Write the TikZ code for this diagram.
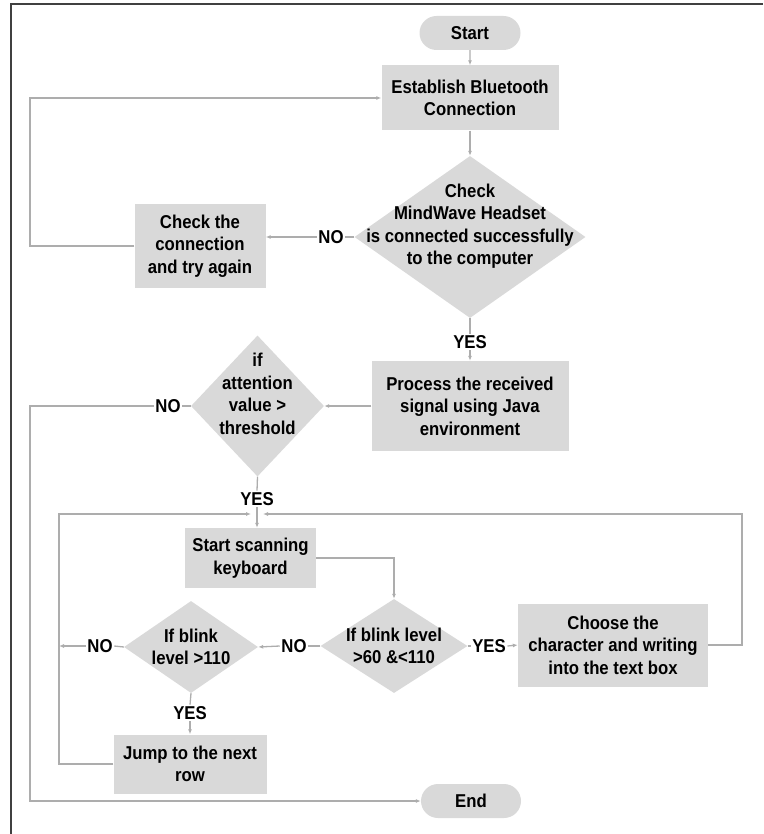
\documentclass[tikz,border=0pt]{standalone}
\usepackage{fontspec}
\setmainfont{Liberation Sans}[FakeStretch=0.9]
\usetikzlibrary{shapes.geometric,shapes.misc,arrows.meta}
\definecolor{boxgray}{HTML}{D9D9D9}
\definecolor{linegray}{HTML}{ADADAD}
\definecolor{framegray}{HTML}{404040}
\begin{document}
\begin{tikzpicture}[x=1pt,y=-1pt,
  every node/.style={font=\fontsize{18.6}{22.5}\selectfont\bfseries},
  box/.style={rectangle, fill=boxgray, align=center, inner sep=0pt},
  pill/.style={rounded rectangle, fill=boxgray, inner sep=0pt},
  dia/.style={diamond, fill=boxgray, inner sep=0pt},
  dtext/.style={align=center, inner sep=0pt},
  lbl/.style={inner sep=1.5pt},
  conn/.style={draw=linegray, line width=1.3pt},
  arr/.style={conn, -{Latex[length=5pt,width=4pt]}}]
\useasboundingbox (0,0) rectangle (763,834);
\draw[framegray, line width=2pt] (10.5,834) -- (10.5,4.5) -- (763,4.5);

% nodes
\node[pill, minimum width=101pt, minimum height=34pt] (start) at (470,33) {Start};
\node[box, minimum width=177pt, minimum height=65pt] (est) at (470,98) {Establish Bluetooth\\Connection};
\node[dia, minimum width=231pt, minimum height=162pt] (dmw) at (470,237) {};
\node[dtext, yshift=11pt] (dmwt) at (dmw.center) {Check\\MindWave Headset\\is connected successfully\\to the computer};
\node[box, minimum width=131pt, minimum height=84pt] (check) at (200,246) {Check the\\connection\\and try again};
\node[box, minimum width=197pt, minimum height=90pt] (proc) at (470,406) {Process the received\\signal using Java\\environment};
\node[dia, minimum width=133pt, minimum height=141pt] (datt) at (257.5,406) {};
\node[dtext, yshift=12pt] (dattt) at (datt.center) {if\\attention\\value >\\threshold};
\node[box, minimum width=131pt, minimum height=60pt] (scan) at (250.5,558) {Start scanning\\keyboard};
\node[dia, minimum width=147pt, minimum height=94pt] (dbl1) at (394,646) {};
\node[dtext] (dbl1t) at (dbl1.center) {If blink level\\>60 \&<110};
\node[box, minimum width=190pt, minimum height=83pt] (choose) at (613,645) {Choose the\\character and writing\\into the text box};
\node[dia, minimum width=134pt, minimum height=92pt] (dbl2) at (191,647) {};
\node[dtext] (dbl2t) at (dbl2.center) {If blink\\level >110};
\node[box, minimum width=153pt, minimum height=59pt] (jump) at (190,764) {Jump to the next\\row};
\node[pill, minimum width=100pt, minimum height=34pt] (end) at (471,801) {End};

% labels
\node[lbl] (no1) at (331,237) {NO};
\node[lbl] (yes1) at (470,342) {YES};
\node[lbl] (no2) at (168,406) {NO};
\node[lbl] (yes2) at (257,499) {YES};
\node[lbl] (no3) at (294,646) {NO};
\node[lbl] (yes3) at (489,646) {YES};
\node[lbl] (no4) at (100,646) {NO};
\node[lbl] (yes4) at (190,713) {YES};

% helper coordinates
\coordinate (m) at (257,514);
\coordinate (mL) at (251,514);
\coordinate (mR) at (263,514);
\coordinate (lx) at (59,514);
\coordinate (rx) at (742,514);
\coordinate (ox) at (30,406);
\coordinate (tx) at (30,98);
\coordinate (n4end) at (59,646);

% connectors
\draw[arr] (start) -- (est);
\draw[arr] (est) -- (dmw.north);
\draw[conn] (dmw.west) -- (no1.east);
\draw[arr] (no1.west) -- (check.east |- no1.west);
\draw[arr] (check.west) -| (tx) -- (est.west);
\draw[conn] (dmw.south) -- (yes1.north);
\draw[arr] (yes1.south) -- (proc.north);
\draw[arr] (proc.west) -- (datt.east);
\draw[conn] (datt.west) -- (no2.east);
\draw[arr] (no2.west) -- (ox) |- (end.west);
\draw[conn] (datt.south) -- (yes2.north);
\draw[arr] (yes2.south) -- (m) -- (scan.north -| m);
\draw[arr] (scan.east) -| (dbl1.north);
\draw[conn] (dbl1.west) -- (no3.east);
\draw[arr] (no3.west) -- (dbl2.east);
\draw[conn] (dbl1.east) -- (yes3.west);
\draw[arr] (yes3.east) -- (choose.west);
\draw[conn] (dbl2.west) -- (no4.east);
\draw[arr] (no4.west) -- (n4end);
\draw[conn] (dbl2.south) -- (yes4.north);
\draw[arr] (yes4.south) -- (jump.north);
\draw[arr] (jump.west) -| (lx) -- (mL);
\draw[arr] (choose.east) -| (rx) -- (mR);
\end{tikzpicture}
\end{document}
